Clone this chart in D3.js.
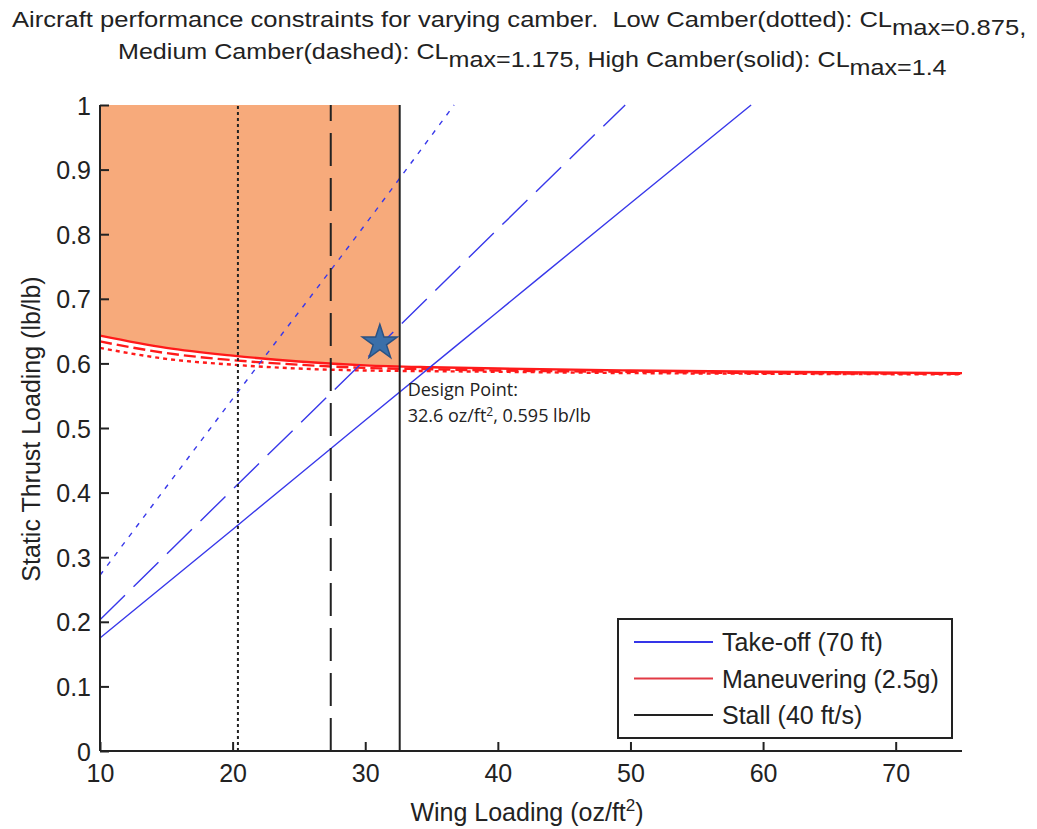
<!DOCTYPE html>
<html>
<head>
<meta charset="utf-8">
<script src="https://cdn.jsdelivr.net/npm/d3@7"></script>
<style>
  body { margin: 0; background: #fff; }
  svg { display: block; }
  text { font-family: "Liberation Sans", Arial, sans-serif; fill: #222; }
</style>
</head>
<body>
<svg id="chart" width="1037" height="829"></svg>
<script>
// ---------- data ----------
const xTicks = [10, 20, 30, 40, 50, 60, 70];
const yTicks = [0, 0.1, 0.2, 0.3, 0.4, 0.5, 0.6, 0.7, 0.8, 0.9, 1];
const yTickLabels = ["0", "0.1", "0.2", "0.3", "0.4", "0.5", "0.6", "0.7", "0.8", "0.9", "1"];

// Take-off (70 ft) constraint
const takeoffLowX  = [10, 20, 30, 36.7];
const takeoffLowY  = [0.272, 0.545, 0.815, 1.0];
const takeoffMedX  = [10, 20, 30, 40, 49.6];
const takeoffMedY  = [0.203, 0.405, 0.606, 0.808, 1.0];
const takeoffHighX = [10, 20, 30, 40, 50, 59.1];
const takeoffHighY = [0.175, 0.343, 0.512, 0.680, 0.848, 1.0];

// Maneuvering (2.5g) constraint
const manX     = [10, 15, 20, 25, 30, 35, 40, 50, 60, 75];
const manLowY  = [0.624, 0.607, 0.598, 0.592, 0.589, 0.588, 0.587, 0.585, 0.584, 0.583];
const manMedY  = [0.634, 0.616, 0.605, 0.598, 0.593, 0.591, 0.589, 0.587, 0.585, 0.584];
const manHighY = [0.643, 0.624, 0.612, 0.603, 0.597, 0.594, 0.592, 0.589, 0.587, 0.585];

// Stall (40 ft/s) constraint: wing loading limits
const stallLow = 20.4, stallMed = 27.4, stallHigh = 32.6;

// Feasible region (between maneuvering high-camber curve and 1.0, up to stall limit)
const shadeX = [10, 15, 20, 25, 30, 32.6];
const shadeY = [0.643, 0.624, 0.612, 0.603, 0.597, 0.595];

// Design point marker
const starX = 31.1, starY = 0.632;

const legendLabels = ["Take-off (70 ft)", "Maneuvering (2.5g)", "Stall (40 ft/s)"];
const legendColors = ["#3535e8", "#e23a45", "#222222"];

// ---------- drawing ----------
const svg = d3.select("#chart");
const x = d3.scaleLinear().domain([10, 75]).range([100, 962]);
const y = d3.scaleLinear().domain([0, 1]).range([751, 105]);

const BLUE = "#3838ea", RED = "#ff1a1a", BLACK = "#222";
const FS = 25;

// shaded feasible region
const area = d3.area().x(d => x(d[0])).y0(y(1)).y1(d => y(d[1])).curve(d3.curveMonotoneX);
svg.append("path").datum(d3.zip(shadeX, shadeY))
  .attr("d", area).attr("fill", "#f7aa7b");

const line = d3.line().x(d => x(d[0])).y(d => y(d[1])).curve(d3.curveMonotoneX);

// maneuvering curves
const manSeries = [
  {y: manLowY, dash: "4,4"},
  {y: manMedY, dash: "12,5"},
  {y: manHighY, dash: null}
];
manSeries.forEach(s => {
  svg.append("path").datum(d3.zip(manX, s.y))
    .attr("d", line).attr("fill", "none")
    .attr("stroke", RED).attr("stroke-width", 2.4)
    .attr("stroke-dasharray", s.dash);
});

// take-off lines
const toSeries = [
  {x: takeoffLowX, y: takeoffLowY, dash: "5,7"},
  {x: takeoffMedX, y: takeoffMedY, dash: "35,12"},
  {x: takeoffHighX, y: takeoffHighY, dash: null}
];
toSeries.forEach(s => {
  svg.append("path").datum(d3.zip(s.x, s.y))
    .attr("d", line).attr("fill", "none")
    .attr("stroke", BLUE).attr("stroke-width", 1.4)
    .attr("stroke-dasharray", s.dash);
});

// stall lines
[{v: stallLow, dash: "3,3"}, {v: stallMed, dash: "33,12"}, {v: stallHigh, dash: null}].forEach(s => {
  svg.append("line")
    .attr("x1", x(s.v)).attr("x2", x(s.v))
    .attr("y1", y(0)).attr("y2", y(1))
    .attr("stroke", BLACK).attr("stroke-width", 2)
    .attr("stroke-dasharray", s.dash);
});

// axes (ticks inward)
const xAxis = d3.axisBottom(x).tickValues(xTicks).tickSize(-9).tickPadding(13).tickFormat(d3.format("d"));
const gx = svg.append("g").attr("transform", `translate(0,${y(0)})`).call(xAxis);
const yAxis = d3.axisLeft(y).tickValues(yTicks).tickSize(-9).tickPadding(9)
  .tickFormat((d, i) => yTickLabels[i]);
const gy = svg.append("g").attr("transform", `translate(${x(10)},0)`).call(yAxis);
[gx, gy].forEach(g => {
  g.attr("font-size", FS).attr("font-family", "Liberation Sans, Arial, sans-serif");
  g.select(".domain").attr("stroke", BLACK).attr("stroke-width", 2);
  g.selectAll(".tick line").attr("stroke", BLACK).attr("stroke-width", 2);
  g.selectAll(".tick text").attr("fill", "#222");
});
gx.select(".domain").attr("d", `M${x(10)},0H${x(75)}`);
gy.select(".domain").attr("d", `M0,${y(0)}V${y(1)}`);
gy.selectAll(".tick text").attr("dy", "0.36em");

// design point star
svg.append("path")
  .attr("d", d3.symbol(d3.symbolStar, 380)())
  .attr("transform", `translate(${x(starX)},${y(starY)})`)
  .attr("fill", "#3b6fa9").attr("stroke", "#2b5283").attr("stroke-width", 1.5);

// annotation
const ann = svg.append("g");
ann.append("text").attr("x", x(stallHigh) + 8).attr("y", 396)
  .attr("font-size", 18).style("font-family", "Open Sans, sans-serif").text("Design Point:");
const ann2 = ann.append("text").attr("x", x(stallHigh) + 8).attr("y", 422)
  .attr("font-size", 18).style("font-family", "Open Sans, sans-serif");
ann2.append("tspan").text("32.6 oz/ft");
ann2.append("tspan").attr("font-size", 12).attr("dy", -6).text("2");
ann2.append("tspan").attr("dy", 6).text(", 0.595 lb/lb");

// title (stretched horizontally to the reference width)
function titleLine(yPos, parts, left, right) {
  const t = svg.append("text").attr("x", 0).attr("y", yPos)
    .attr("font-size", 22).style("white-space", "pre");
  parts.forEach(p => {
    if (p.sub) {
      t.append("tspan").attr("dy", 8).text(p.t);
      t.append("tspan").attr("dy", -8).text("");
    } else {
      t.append("tspan").text(p.t);
    }
  });
  const w = t.node().getComputedTextLength();
  t.attr("transform", `translate(${left},0) scale(${(right - left) / w},1)`);
  return t;
}
titleLine(27, [
  {t: "Aircraft performance constraints for varying camber.  Low Camber(dotted): CL"},
  {t: "max", sub: true}, {t: "=0.875,"}], 12, 1027);
titleLine(59, [
  {t: "Medium Camber(dashed): CL"}, {t: "max", sub: true},
  {t: "=1.175, High Camber(solid): CL"}, {t: "max", sub: true}, {t: "=1.4"}], 118, 947);

// axis labels
const xl = svg.append("text").attr("x", 527).attr("y", 821).attr("text-anchor", "middle").attr("font-size", FS);
xl.append("tspan").text("Wing Loading (oz/ft");
xl.append("tspan").attr("font-size", 17).attr("dy", -10).text("2");
xl.append("tspan").attr("dy", 10).text(")");
svg.append("text").attr("transform", "translate(40,429) rotate(-90)")
  .attr("text-anchor", "middle").attr("font-size", FS).text("Static Thrust Loading (lb/lb)");

// legend
const lg = svg.append("g");
lg.append("rect").attr("x", 618).attr("y", 619).attr("width", 334).attr("height", 119)
  .attr("fill", "#fff").attr("stroke", BLACK).attr("stroke-width", 2);
legendLabels.forEach((lab, i) => {
  const cy = 642 + i * 36.5;
  lg.append("line").attr("x1", 634).attr("x2", 713).attr("y1", cy).attr("y2", cy)
    .attr("stroke", legendColors[i]).attr("stroke-width", 2);
  lg.append("text").attr("x", 722).attr("y", cy).attr("dy", "0.36em")
    .attr("font-size", FS).text(lab);
});
</script>
</body>
</html>
